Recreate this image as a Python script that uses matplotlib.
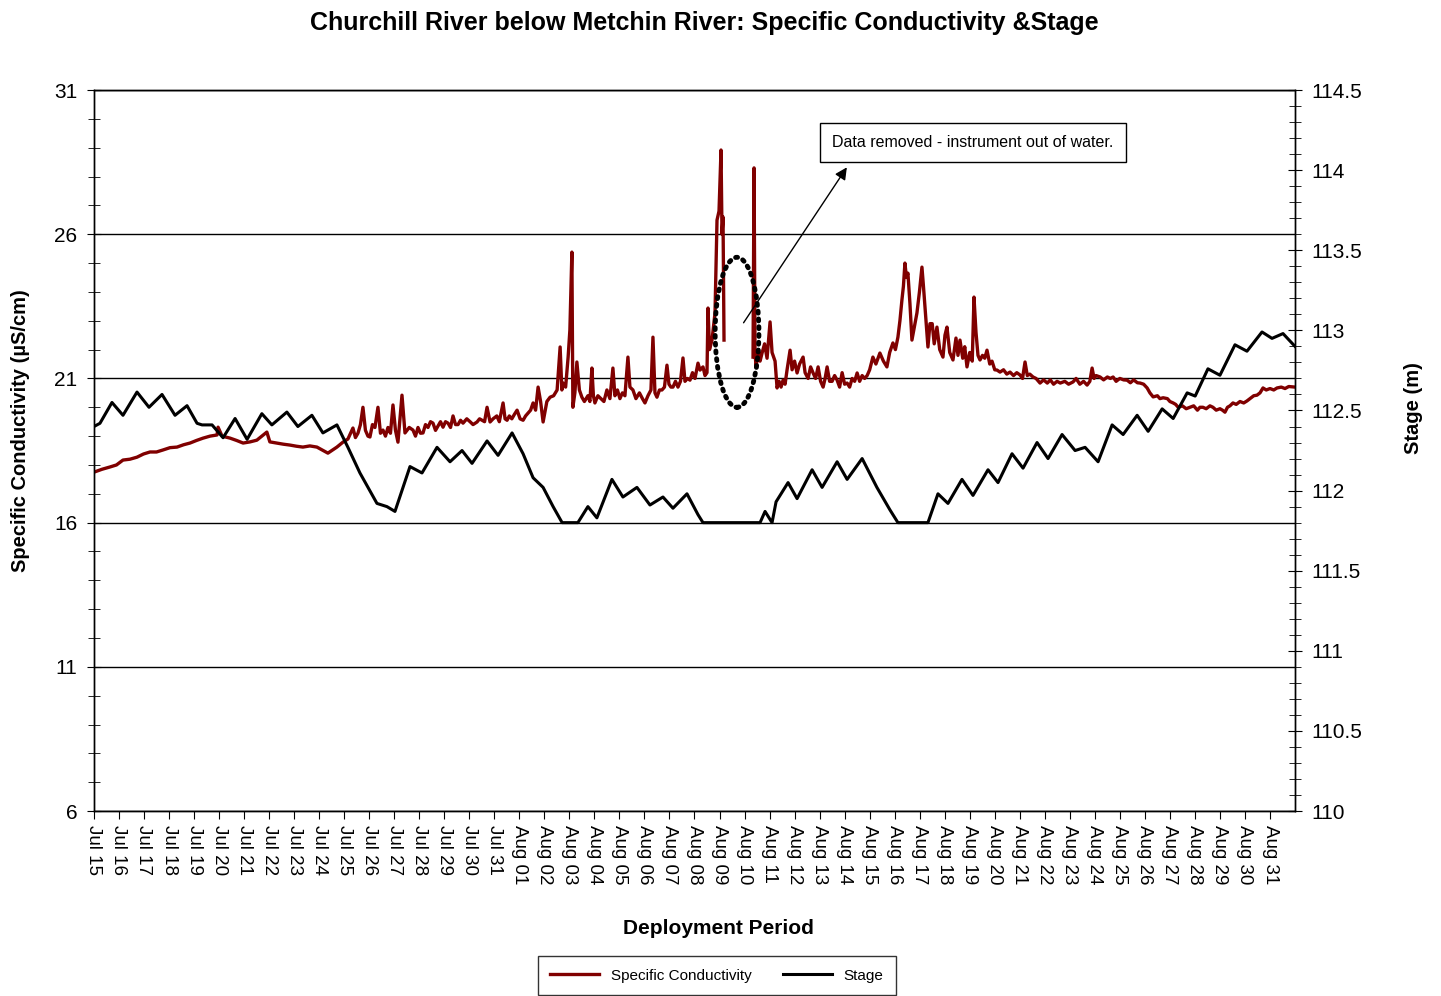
import pandas as pd
import matplotlib
matplotlib.use("Agg")
import matplotlib.pyplot as plt
import matplotlib.dates as mdates
import matplotlib.ticker as ticker
from matplotlib.patches import Ellipse

plt.rcParams['font.family'] = ['Liberation Sans', 'DejaVu Sans']

start = pd.Timestamp("2011-07-15")
n_days = 48

# stage readings: days after Jul 15 00:00 and stage in metres
stage_days = [0.0, 0.24, 0.72, 1.16, 1.72, 2.20, 2.72, 3.24, 3.72, 4.12, 4.32, 4.72,
              5.16, 5.64, 6.12, 6.71, 7.11, 7.71, 8.15, 8.71, 9.15, 9.71, 10.15, 10.63,
              11.31, 11.71, 12.03, 12.63, 13.11, 13.71, 14.23, 14.71, 15.11, 15.71, 16.15,
              16.71, 17.15, 17.55, 17.95, 18.35, 18.71, 19.34, 19.74, 20.10, 20.70, 21.14,
              21.70, 22.22, 22.74, 23.14, 23.70, 24.14, 24.34, 26.62, 26.82, 27.10, 27.26,
              27.74, 28.10, 28.70, 29.10, 29.70, 30.10, 30.70, 31.29, 31.81, 32.13, 33.33,
              33.73, 34.13, 34.69, 35.13, 35.73, 36.13, 36.69, 37.13, 37.69, 38.13, 38.69,
              39.21, 39.61, 40.13, 40.69, 41.13, 41.69, 42.13, 42.69, 43.13, 43.69, 44.01,
              44.52, 45.00, 45.60, 46.08, 46.68, 47.08, 47.52, 48.0]
stage_m = [112.40, 112.42, 112.55, 112.47, 112.615, 112.52, 112.60, 112.47, 112.53, 112.42,
           112.41, 112.41, 112.33, 112.45, 112.32, 112.48, 112.41, 112.49, 112.40, 112.47,
           112.36, 112.41, 112.27, 112.11, 111.92, 111.90, 111.87, 112.15, 112.11, 112.27,
           112.18, 112.25, 112.17, 112.31, 112.22, 112.36, 112.23, 112.08, 112.02, 111.90,
           111.80, 111.80, 111.90, 111.83, 112.07, 111.96, 112.02, 111.91, 111.96, 111.89,
           111.98, 111.85, 111.80, 111.80, 111.87, 111.80, 111.93, 112.05, 111.95, 112.13,
           112.02, 112.18, 112.07, 112.20, 112.02, 111.88, 111.80, 111.80, 111.98, 111.92,
           112.07, 111.97, 112.13, 112.05, 112.23, 112.14, 112.30, 112.20, 112.35, 112.25,
           112.27, 112.18, 112.41, 112.35, 112.47, 112.37, 112.51, 112.45, 112.61, 112.59,
           112.76, 112.72, 112.91, 112.87, 112.99, 112.95, 112.98, 112.90]

# specific conductivity (uS/cm); None marks the removed stretch around Aug 09-10
cond_days = [
    0.0, 0.32, 0.64, 0.9, 1.16, 1.44, 1.72, 1.98, 2.24, 2.5, 2.76, 3.04, 3.32, 3.58,
    3.84, 4.1, 4.36, 4.64, 4.92, 4.96, 5.12, 5.44, 5.7, 5.96, 6.24, 6.51, 6.91, 7.03,
    7.31, 7.57, 7.83, 8.09, 8.35, 8.63, 8.91, 9.35, 9.71, 9.95,
    10.15, 10.35, 10.45, 10.55, 10.65, 10.75, 10.85, 10.95, 11.03, 11.13, 11.23, 11.35,
    11.45, 11.55, 11.65, 11.75, 11.85, 11.95, 12.05, 12.15, 12.31, 12.43, 12.6, 12.75,
    12.85, 12.95, 13.05, 13.15, 13.25, 13.35, 13.45, 13.55, 13.65, 13.75, 13.85, 13.95,
    14.05, 14.15, 14.25, 14.35, 14.45, 14.55, 14.65, 14.75, 14.9, 15.03, 15.15, 15.31,
    15.41, 15.51, 15.61, 15.71, 15.83, 15.95, 16.1, 16.2, 16.35, 16.43, 16.51, 16.6,
    16.7, 16.8, 16.91, 17.03, 17.15, 17.25, 17.35, 17.45, 17.55, 17.65, 17.75, 17.85,
    17.95, 18.1, 18.23, 18.37, 18.51, 18.63, 18.7, 18.75, 18.85, 18.95, 19.02, 19.10,
    19.14, 19.22, 19.30, 19.40, 19.50, 19.6, 19.74, 19.82, 19.90, 19.96, 20.02, 20.14,
    20.26, 20.38, 20.50, 20.62, 20.74, 20.82, 20.92, 21.02, 21.12, 21.22, 21.34, 21.42,
    21.54, 21.66, 21.8, 21.92, 22.02, 22.14, 22.26, 22.34, 22.42, 22.50, 22.6, 22.7,
    22.80, 22.90, 22.98, 23.06, 23.14, 23.24, 23.34, 23.44, 23.54, 23.62, 23.72, 23.82,
    23.92, 24.02, 24.14, 24.22, 24.34, 24.42, 24.50, 24.54, 24.6, 24.70, 24.82, 24.90,
    24.98, 25.06, 25.10, 25.14, 25.18, 25.5,
    26.34, 26.38, 26.42, 26.46, 26.56, 26.62, 26.70, 26.80, 26.90, 27.02, 27.10, 27.22,
    27.30, 27.38, 27.46, 27.54, 27.62, 27.70, 27.82, 27.90, 28.00, 28.10, 28.20, 28.34,
    28.42, 28.54, 28.64, 28.74, 28.84, 28.94, 29.04, 29.14, 29.22, 29.30, 29.40, 29.50,
    29.60, 29.70, 29.80, 29.90, 30.00, 30.10, 30.20, 30.30, 30.40, 30.50, 30.60, 30.70,
    30.80, 30.90, 31.00, 31.13, 31.25, 31.41, 31.55, 31.69, 31.80, 31.93, 32.03, 32.13,
    32.21, 32.29, 32.35, 32.41, 32.47, 32.53, 32.61, 32.69, 32.79, 32.89, 32.99, 33.09,
    33.15, 33.21, 33.27, 33.33, 33.41, 33.50, 33.58, 33.69, 33.80, 33.93, 34.01, 34.09,
    34.20, 34.33, 34.45, 34.53, 34.61, 34.72, 34.80, 34.89, 35.00, 35.10, 35.17, 35.25,
    35.33, 35.41, 35.51, 35.60, 35.69, 35.80, 35.89, 36.00, 36.09, 36.21, 36.35, 36.48,
    36.61, 36.75, 36.88, 37.01, 37.11, 37.21, 37.30, 37.40, 37.53, 37.65, 37.81, 37.95,
    38.10, 38.22, 38.35, 38.49, 38.62, 38.80, 38.95, 39.13, 39.25, 39.40, 39.55, 39.69,
    39.80, 39.89, 39.97, 40.05, 40.21, 40.35, 40.50, 40.62, 40.73, 40.85, 41.00, 41.15,
    41.29, 41.42, 41.55, 41.70, 41.81, 41.95, 42.09, 42.20, 42.33, 42.50, 42.60, 42.73,
    42.90, 43.00, 43.13, 43.23, 43.33, 43.50, 43.65, 43.80, 43.95, 44.10, 44.20, 44.32,
    44.45, 44.60, 44.72, 44.85, 45.00, 45.10, 45.20, 45.30, 45.40, 45.52, 45.65, 45.80,
    45.95, 46.08, 46.20, 46.35, 46.48, 46.60, 46.72, 46.85, 47.00, 47.15, 47.28, 47.45,
    47.60, 47.75, 48.00]
cond_us = [
    17.75, 17.85, 17.93, 18.0, 18.17, 18.2, 18.27, 18.38, 18.45, 18.45, 18.52, 18.6,
    18.62, 18.7, 18.76, 18.85, 18.93, 19.0, 19.04, 19.31, 19.0, 18.93, 18.85, 18.76,
    18.8, 18.86, 19.14, 18.8, 18.76, 18.72, 18.69, 18.65, 18.62, 18.66, 18.62, 18.41,
    18.62, 18.79,
    18.9, 19.28, 18.95, 19.1, 19.4, 20.0, 19.2, 19.0, 18.97, 19.4, 19.3, 20.0,
    19.1, 19.21, 19.0, 19.3, 19.1, 20.08, 19.2, 18.79, 20.42, 19.11, 19.3, 19.21,
    19.0, 19.3, 19.1, 19.11, 19.4, 19.3, 19.5, 19.45, 19.2, 19.35, 19.5, 19.31,
    19.5, 19.45, 19.3, 19.7, 19.4, 19.4, 19.55, 19.45, 19.6, 19.5, 19.4, 19.49,
    19.6, 19.55, 19.5, 20.0, 19.49, 19.6, 19.7, 19.5, 20.15, 19.6, 19.55, 19.7,
    19.6, 19.75, 19.9, 19.6, 19.55, 19.7, 19.8, 19.9, 20.15, 19.9, 20.7, 20.2,
    19.49, 20.2, 20.35, 20.4, 20.6, 22.09, 20.6, 20.84, 20.7, 21.74, 22.68, 25.38,
    20.0, 20.5, 21.57, 20.6, 20.35, 20.2, 20.4, 20.2, 21.36, 20.4, 20.15, 20.4,
    20.3, 20.2, 20.6, 20.3, 21.36, 20.4, 20.6, 20.3, 20.5, 20.4, 21.74, 20.7,
    20.6, 20.3, 20.5, 20.3, 20.15, 20.4, 20.6, 22.43, 20.5, 20.35, 20.6, 20.6,
    20.7, 21.46, 20.8, 20.7, 20.7, 20.9, 20.7, 20.9, 21.71, 20.9, 21.0, 20.94,
    21.2, 21.0, 21.53, 21.29, 21.4, 21.1, 21.2, 23.44, 22.0, 22.33, 23.27, 26.49,
    26.8, 28.92, 26.0, 26.6, 22.33, None,
    21.74, 28.3, 21.9, 21.4, 22.0, 21.6, 21.88, 22.2, 21.7, 22.96, 21.9, 21.6,
    20.67, 20.9, 20.7, 20.94, 20.8, 21.3, 21.98, 21.3, 21.6, 21.19, 21.5, 21.74,
    21.2, 21.0, 21.4, 21.19, 21.0, 21.4, 20.9, 20.70, 21.0, 21.4, 20.9, 20.9,
    21.1, 20.94, 20.7, 21.2, 20.8, 20.84, 20.7, 21.0, 20.9, 21.19, 20.9, 21.1,
    21.0, 21.1, 21.3, 21.74, 21.5, 21.88, 21.6, 21.4, 21.9, 22.23, 22.0, 22.43,
    23.0, 23.72, 24.2, 25.0, 24.5, 24.65, 23.6, 22.33, 22.8, 23.27, 24.0, 24.86,
    24.2, 23.48, 22.8, 22.09, 22.9, 22.9, 22.2, 22.78, 22.0, 21.74, 22.5, 22.78,
    21.9, 21.64, 22.4, 21.8, 22.33, 21.7, 22.1, 21.4, 21.9, 21.6, 23.82, 22.6,
    21.8, 21.64, 21.8, 21.7, 21.98, 21.5, 21.6, 21.3, 21.29, 21.22, 21.3, 21.15,
    21.22, 21.1, 21.2, 21.12, 21.0, 21.57, 21.1, 21.15, 21.05, 21.0, 20.84, 20.95,
    20.84, 20.95, 20.8, 20.9, 20.84, 20.9, 20.8, 20.88, 21.0, 20.8, 20.9, 20.77,
    20.9, 21.36, 21.0, 21.1, 21.05, 20.95, 21.05, 21.0, 21.05, 20.9, 21.0, 20.95,
    20.94, 20.85, 20.95, 20.85, 20.84, 20.8, 20.67, 20.5, 20.36, 20.4, 20.3, 20.33,
    20.3, 20.2, 20.15, 20.1, 20.0, 20.05, 19.95, 20.0, 20.05, 19.9, 20.0, 20.0,
    19.95, 20.05, 20.0, 19.9, 19.95, 19.9, 19.83, 20.0, 20.05, 20.15, 20.1, 20.2,
    20.15, 20.22, 20.3, 20.4, 20.42, 20.5, 20.67, 20.6, 20.65, 20.6, 20.67, 20.7,
    20.65, 20.72, 20.70]

stage_t = start + pd.to_timedelta(stage_days, unit="D")
cond_t = start + pd.to_timedelta(cond_days, unit="D")
cond_vals = [float("nan") if v is None else v for v in cond_us]
day_ticks = pd.date_range(start, periods=n_days, freq="D")

fig = plt.figure(figsize=(14.41, 9.96), dpi=100)
ax = fig.add_axes([0.0652, 0.1857, 0.8335, 0.7239])
ax2 = ax.twinx()

ln1, = ax.plot(cond_t, cond_vals, color="#800000", lw=2.4, label="Specific Conductivity")
ln2, = ax2.plot(stage_t, stage_m, color="black", lw=2.2, label="Stage")

# left axis
ax.set_ylim(6, 31)
ax.yaxis.set_major_locator(ticker.FixedLocator([6, 11, 16, 21, 26, 31]))
ax.yaxis.set_minor_locator(ticker.MultipleLocator(1))
ax.grid(True, axis="y", color="black", lw=1)
ax.set_ylabel("Specific Conductivity (\u00b5S/cm)", fontsize=14.5, fontweight="bold")
ax.yaxis.set_label_coords(-0.0533, 0.527)

# right axis
ax2.set_ylim(110, 114.5)
ax2.yaxis.set_major_locator(ticker.MultipleLocator(0.5))
ax2.yaxis.set_minor_locator(ticker.MultipleLocator(0.1))
ax2.yaxis.set_major_formatter(ticker.FuncFormatter(lambda v, p: "%g" % v))
ax2.set_ylabel("Stage (m)", fontsize=14.5, fontweight="bold")
ax2.yaxis.set_label_coords(1.0908, 0.559)

# date axis, one tick per day, no label at the closing edge
ax.set_xlim(start, start + pd.Timedelta(days=n_days))
ax.xaxis.set_major_locator(ticker.FixedLocator(mdates.date2num(day_ticks)))
ax.xaxis.set_major_formatter(mdates.DateFormatter("%b %d"))
ax.set_xlabel("Deployment Period", fontsize=15, fontweight="bold")
ax.xaxis.set_label_coords(0.52, -0.150)
for lbl in ax.get_xticklabels():
    lbl.set_rotation(270)
    lbl.set_va("top")
    lbl.set_ha("center")

ax.tick_params(axis="x", direction="out", length=6, labelsize=13.5, pad=4)
ax.tick_params(axis="y", which="major", direction="inout", length=10, labelsize=15, pad=7)
ax.tick_params(axis="y", which="minor", direction="inout", length=8)
ax2.tick_params(axis="y", which="major", direction="inout", length=10, labelsize=15, pad=7)
ax2.tick_params(axis="y", which="minor", direction="inout", length=8)
for a in (ax, ax2):
    for s in a.spines.values():
        s.set_linewidth(1.0)

# removed-data marker and note
centre = mdates.date2num(start + pd.Timedelta(days=25.7))
ax.add_patch(Ellipse((centre, 22.6), 1.75, 5.2, fill=False, edgecolor="black",
                     lw=3.5, ls=(0, (0.4, 1.2)), capstyle="round", zorder=5))
ax.annotate("", xy=(start + pd.Timedelta(days=30.15), 28.4),
            xytext=(start + pd.Timedelta(days=25.9), 22.85),
            arrowprops=dict(arrowstyle="-|>", color="black", lw=1.0, mutation_scale=18))
ax.text(start + pd.Timedelta(days=35.13), 29.18, "Data removed - instrument out of water.",
        fontsize=11.5, ha="center", va="center",
        bbox=dict(boxstyle="square,pad=0.75", fc="white", ec="black", lw=1.0))

fig.text(0.489, 0.977, "Churchill River below Metchin River: Specific Conductivity &Stage",
         fontsize=18, fontweight="bold", ha="center", va="center")

leg = fig.legend([ln1, ln2], ["Specific Conductivity", "Stage"], loc="upper center",
                 bbox_to_anchor=(0.4975, 0.0475), ncol=2, fontsize=11, frameon=True,
                 fancybox=False, edgecolor="black", handlelength=3.2, columnspacing=2.0,
                 borderpad=0.8)
leg.get_frame().set_linewidth(1.0)

fig.savefig("out.png", dpi=100)
